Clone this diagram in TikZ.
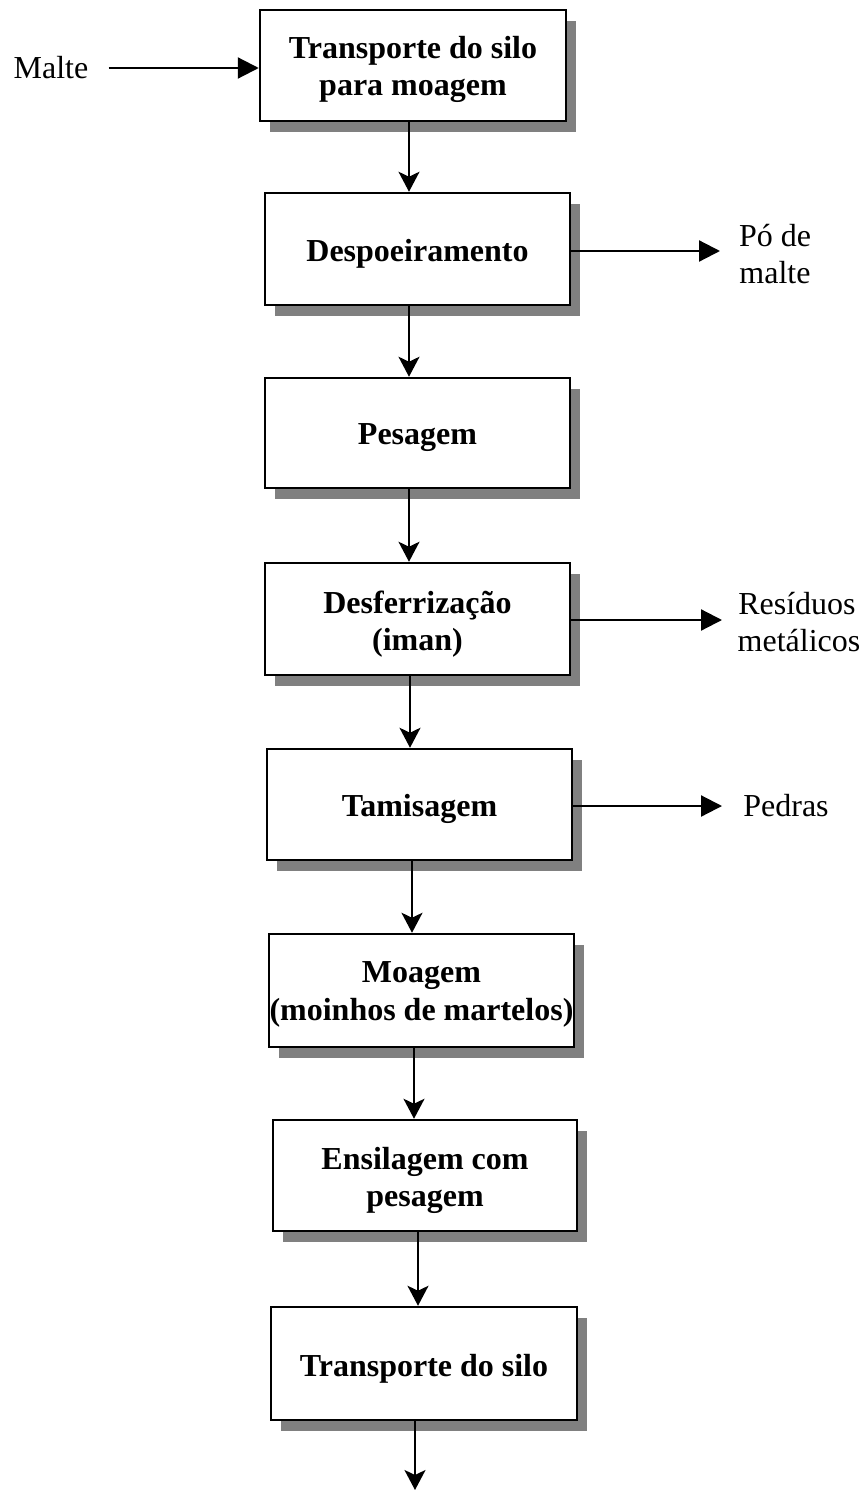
\documentclass[tikz,border=0pt]{standalone}
\usepackage{fontspec}
\setmainfont{Liberation Serif}
\usetikzlibrary{arrows.meta,shadows}
\definecolor{shadowgray}{HTML}{808080}
\begin{document}
\begin{tikzpicture}[x=1pt,y=-1pt,
  font=\fontsize{32}{37}\selectfont,
  stepbox/.style={draw=black, line width=2.5pt, fill=white, inner sep=0pt,
    drop shadow={shadow xshift=10pt, shadow yshift=-11pt, fill=shadowgray, opacity=1}},
  steptext/.style={align=center, inner sep=0pt,
    font=\fontsize{32}{37.5}\selectfont\bfseries},
  down/.style={line width=2.2pt, -{Stealth[length=20pt,width=21pt,inset=5pt]}},
  side/.style={line width=2.2pt, -{Triangle[length=21pt,width=21pt]}},
  label/.style={align=center, inner sep=0pt}]
\useasboundingbox (0,0) rectangle (864,1490);

% process steps
\node[stepbox, minimum width=306pt, minimum height=111pt] (b1) at (413,65.5) {};
\node[stepbox, minimum width=305pt, minimum height=112pt] (b2) at (417.5,249) {};
\node[stepbox, minimum width=305pt, minimum height=110pt] (b3) at (417.5,433) {};
\node[stepbox, minimum width=305pt, minimum height=112pt] (b4) at (417.5,619) {};
\node[stepbox, minimum width=305pt, minimum height=111pt] (b5) at (419.5,804.5) {};
\node[stepbox, minimum width=305pt, minimum height=113pt] (b6) at (421.5,990.5) {};
\node[stepbox, minimum width=304pt, minimum height=111pt] (b7) at (425,1175.5) {};
\node[stepbox, minimum width=306pt, minimum height=113pt] (b8) at (424,1363.5) {};

% step names, set a little below the box centres
\node[steptext] (t1) at ([yshift=-4pt]b1.center) {Transporte do silo\\para moagem};
\node[steptext] (t2) at ([yshift=-5pt]b2.center) {Despoeiramento};
\node[steptext] (t3) at ([yshift=-5pt]b3.center) {Pesagem};
\node[steptext] (t4) at ([yshift=-5pt]b4.center) {Desferrização\\(iman)};
\node[steptext] (t5) at ([yshift=-4pt]b5.center) {Tamisagem};
\node[steptext] (t6) at ([yshift=-4pt]b6.center) {Moagem\\(moinhos de martelos)};
\node[steptext] (t7) at ([yshift=-5pt]b7.center) {Ensilagem com\\pesagem};
\node[steptext] (t8) at ([yshift=-5pt]b8.center) {Transporte do silo};

% inputs and outputs
\node[label] (malte) at (51,68) {Malte};
\node[label] (po) at (775,254) {Pó de\\malte};
\node[label] (res) at (797,622) {Resíduos\\\hspace*{4pt}metálicos};
\node[label] (ped) at (786,806) {Pedras};
\coordinate (out) at (415,1490);

% main flow
\draw[down] (b1.south -| 409,0) -- (b2.north -| 409,0);
\draw[down] (b2.south -| 409,0) -- (b3.north -| 409,0);
\draw[down] (b3.south -| 409,0) -- (b4.north -| 409,0);
\draw[down] (b4.south -| 410,0) -- (b5.north -| 410,0);
\draw[down] (b5.south -| 412,0) -- (b6.north -| 412,0);
\draw[down] (b6.south -| 414,0) -- (b7.north -| 414,0);
\draw[down] (b7.south -| 418,0) -- (b8.north -| 418,0);
\draw[down] (b8.south -| out) -- (out);

% side streams
\draw[side] ([xshift=20pt]malte.east) -- (b1.west |- malte.east);
\draw[side] (b2.east |- 0,251) -- (720,251);
\draw[side] (b4.east |- 0,620) -- (722,620);
\draw[side] (b5.east |- 0,806) -- (722,806);
\end{tikzpicture}
\end{document}
